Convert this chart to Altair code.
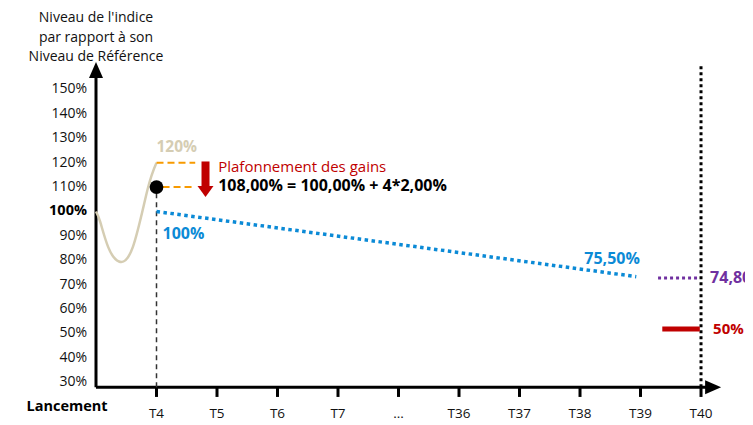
import altair as alt
import pandas as pd

# ---------------- data ----------------
tick_labels = ["T4", "T5", "T6", "T7", "...", "T36", "T37", "T38", "T39", "T40"]
y_tick_values = [30, 40, 50, 60, 70, 80, 90, 100, 110, 120, 130, 140, 150]

# beige index path from launch to T4
curve_x = [0.0, 0.07, 0.2, 0.38, 0.61, 0.85, 1.0]
curve_y = [100.0, 95.7, 85.5, 79.5, 85.5, 108.8, 120.0]

# blue dotted projection after the cap
blue_x = [1.0, 8.93]
blue_y = [100.0, 73.3]

cap_level = 108.0
barrier_level = 120.0
purple_level = 72.7
red_level = 51.8

FONT = "Open Sans"
BEIGE = "#d5cdb3"
BLUE = "#0b8ad6"
PURPLE = "#7030a0"
RED = "#c00000"
ORANGE = "#f79a00"

W, H = 737, 417
xs = alt.Scale(domain=[-1.4545, 10.727], nice=False, zero=False)
ys = alt.Scale(domain=[12.50, 183.40], nice=False, zero=False)


def X(f="x"):
    return alt.X(f"{f}:Q", scale=xs, axis=None)


def Y(f="y"):
    return alt.Y(f"{f}:Q", scale=ys, axis=None)


def seg(rows, **mk):
    df = pd.DataFrame(rows, columns=["x", "y", "x2", "y2"])
    return alt.Chart(df).mark_rule(**mk).encode(
        x=X(), y=Y(), x2=alt.X2("x2"), y2=alt.Y2("y2"))


def txt(rows, **mk):
    df = pd.DataFrame(rows, columns=["x", "y", "t"])
    return alt.Chart(df).mark_text(font=FONT, baseline="middle", **mk).encode(
        x=X(), y=Y(), text="t:N")


n = len(tick_labels)
ticks_idx = list(range(1, n + 1))

layers = []

# axes
layers.append(seg([[0, 28, 10.12, 28]], color="black", strokeWidth=3))
layers.append(seg([[0, 28, 0, 155]], color="black", strokeWidth=3))
layers.append(seg([[i, 28, i, 24] for i in ticks_idx], color="black", strokeWidth=3))

# arrow heads
layers.append(alt.Chart(pd.DataFrame({"x": [0], "y": [158.0]})).mark_point(
    shape="M0,-1L0.875,1L-0.875,1Z", size=256, filled=True, color="black", opacity=1
).encode(x=X(), y=Y()))
layers.append(alt.Chart(pd.DataFrame({"x": [10.2], "y": [28]})).mark_point(
    shape="M1,0L-1,-0.875L-1,0.875Z", size=256, filled=True, color="black", opacity=1
).encode(x=X(), y=Y()))

# y tick labels
ydf = pd.DataFrame({"x": [-0.149] * len(y_tick_values), "y": y_tick_values,
                    "t": [f"{v}%" for v in y_tick_values],
                    "b": ["bold" if v == 100 else "normal" for v in y_tick_values]})
layers.append(alt.Chart(ydf[ydf.b == "normal"]).mark_text(
    font=FONT, fontSize=14, align="right", baseline="middle", color="#111"
).encode(x=X(), y=Y(), text="t:N"))
layers.append(alt.Chart(ydf[ydf.b == "bold"]).mark_text(
    font=FONT, fontSize=14.5, align="right", baseline="middle", fontWeight="bold", color="black"
).encode(x=X(), y=Y(), text="t:N"))

# x tick labels
layers.append(txt([[i, 17.0, lab] for i, lab in zip(ticks_idx, tick_labels)],
                  fontSize=13.5, align="center", color="#111"))
layers.append(txt([[-0.479, 19.9, "Lancement"]], fontSize=14.5, align="center",
                  fontWeight="bold", color="black"))

# y title
layers.append(txt([[0, 179.3, "Niveau de l'indice"],
                   [0, 171.0, "par rapport à son"],
                   [0, 163.3, "Niveau de Référence"]],
                  fontSize=14, align="center", color="#111"))

# T4 dashed vertical, T40 dotted vertical
layers.append(seg([[1, 28, 1, cap_level]], color="#333", strokeWidth=1.5, strokeDash=[5, 4]))
layers.append(seg([[10, 28, 10, 160]], color="black", strokeWidth=3, strokeDash=[3, 3]))

# beige curve
layers.append(alt.Chart(pd.DataFrame({"x": curve_x, "y": curve_y})).mark_line(
    color=BEIGE, strokeWidth=2.5, interpolate="natural").encode(x=X(), y=Y()))

# orange dashed levels
layers.append(seg([[1.0, barrier_level, 1.64, barrier_level],
                   [1.1, cap_level + 2, 1.64, cap_level + 2]],
                  color=ORANGE, strokeWidth=2, strokeDash=[7, 4]))

# blue dotted line
layers.append(alt.Chart(pd.DataFrame({"x": blue_x, "y": blue_y})).mark_line(
    color=BLUE, strokeWidth=3.5, strokeDash=[3.5, 3.5]).encode(x=X(), y=Y()))

# purple dotted, red solid
layers.append(seg([[9.29, purple_level, 9.98, purple_level]], color=PURPLE,
                  strokeWidth=3, strokeDash=[3, 3]))
layers.append(seg([[9.36, red_level, 9.98, red_level]], color=RED, strokeWidth=5))

# red arrow
layers.append(seg([[1.81, 120.5, 1.81, 109.5]], color=RED, strokeWidth=8))
layers.append(alt.Chart(pd.DataFrame({"x": [1.81], "y": [108.2]})).mark_point(
    shape="M-1,-0.7L1,-0.7L0,0.7Z", size=256, filled=True, color=RED, opacity=1
).encode(x=X(), y=Y()))

# black dot
layers.append(alt.Chart(pd.DataFrame({"x": [1.0], "y": [cap_level + 2]})).mark_point(
    shape="circle", size=190, filled=True, color="black", opacity=1).encode(x=X(), y=Y()))

# labels
layers.append(txt([[1.0, 126.4, "120%"]], fontSize=15.5, fontWeight="bold", align="left", color=BEIGE))
layers.append(txt([[1.1, 90.8, "100%"]], fontSize=16, fontWeight="bold", align="left", color=BLUE))
layers.append(txt([[8.53, 80.5, "75,50%"]], fontSize=16, fontWeight="bold", align="center", color=BLUE))
layers.append(txt([[10.15, 72.7, "74,80%"]], fontSize=16, fontWeight="bold", align="left", color=PURPLE))
layers.append(txt([[10.2, 51.8, "50%"]], fontSize=15, fontWeight="bold", align="left", color=RED))
layers.append(txt([[2.02, 118.3, "Plafonnement des gains"]], fontSize=15, align="left", color=RED))
layers.append(txt([[2.02, 110.3, "108,00% = 100,00% + 4*2,00%"]], fontSize=16,
                  fontWeight="bold", align="left", color="black"))

chart = alt.layer(*layers).properties(
    width=W, height=H,
    autosize=alt.AutoSizeParams(type="none"),
    padding=0,
    background="white",
).configure_view(stroke=None)

chart.save("out.html", embed_options={"renderer": "svg", "actions": False})
